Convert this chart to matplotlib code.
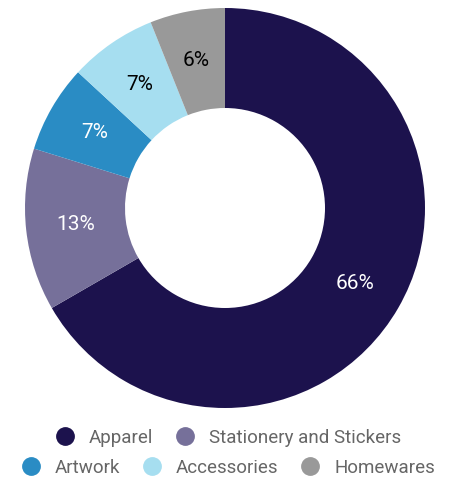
import matplotlib.pyplot as plt
from matplotlib.lines import Line2D

plt.rcParams['font.family'] = ['Roboto', 'DejaVu Sans']

categories = ["Apparel", "Stationery and Stickers", "Artwork", "Accessories", "Homewares"]
shares = [66, 13, 7, 7, 6]
colors = ["#1c124d", "#76709a", "#2a8cc4", "#a6def0", "#999999"]
label_colors = ["white", "white", "white", "black", "black"]

fig = plt.figure(figsize=(4.55, 4.83), dpi=100)
ax = fig.add_axes([25 / 455, 75 / 483, 400 / 455, 400 / 483])

wedges, texts, autotexts = ax.pie(
    shares, colors=colors, startangle=90, counterclock=False, radius=1,
    wedgeprops=dict(width=0.5, linewidth=0), autopct="%d%%", pctdistance=0.75,
    textprops=dict(fontsize=15))
for t, c in zip(autotexts, label_colors):
    t.set_color(c)
ax.set_xlim(-1, 1)
ax.set_ylim(-1, 1)
ax.set_aspect("equal")

handles = [Line2D([], [], marker="o", linestyle="", markersize=12.5, color=c) for c in colors]

kw = dict(frameon=False, handletextpad=0.66, columnspacing=1.1,
          labelcolor="#666666", handlelength=1.2, borderpad=0, loc="center",
          prop=dict(family=["Roboto", "DejaVu Sans"], size=13.5))
leg1 = fig.legend(handles[:2], categories[:2], ncol=2, bbox_to_anchor=(0.5, 1 - 438 / 483), **kw)
leg2 = fig.legend(handles[2:], categories[2:], ncol=3, bbox_to_anchor=(0.5, 1 - 468 / 483), **kw)

fig.savefig("out.png", dpi=100)
